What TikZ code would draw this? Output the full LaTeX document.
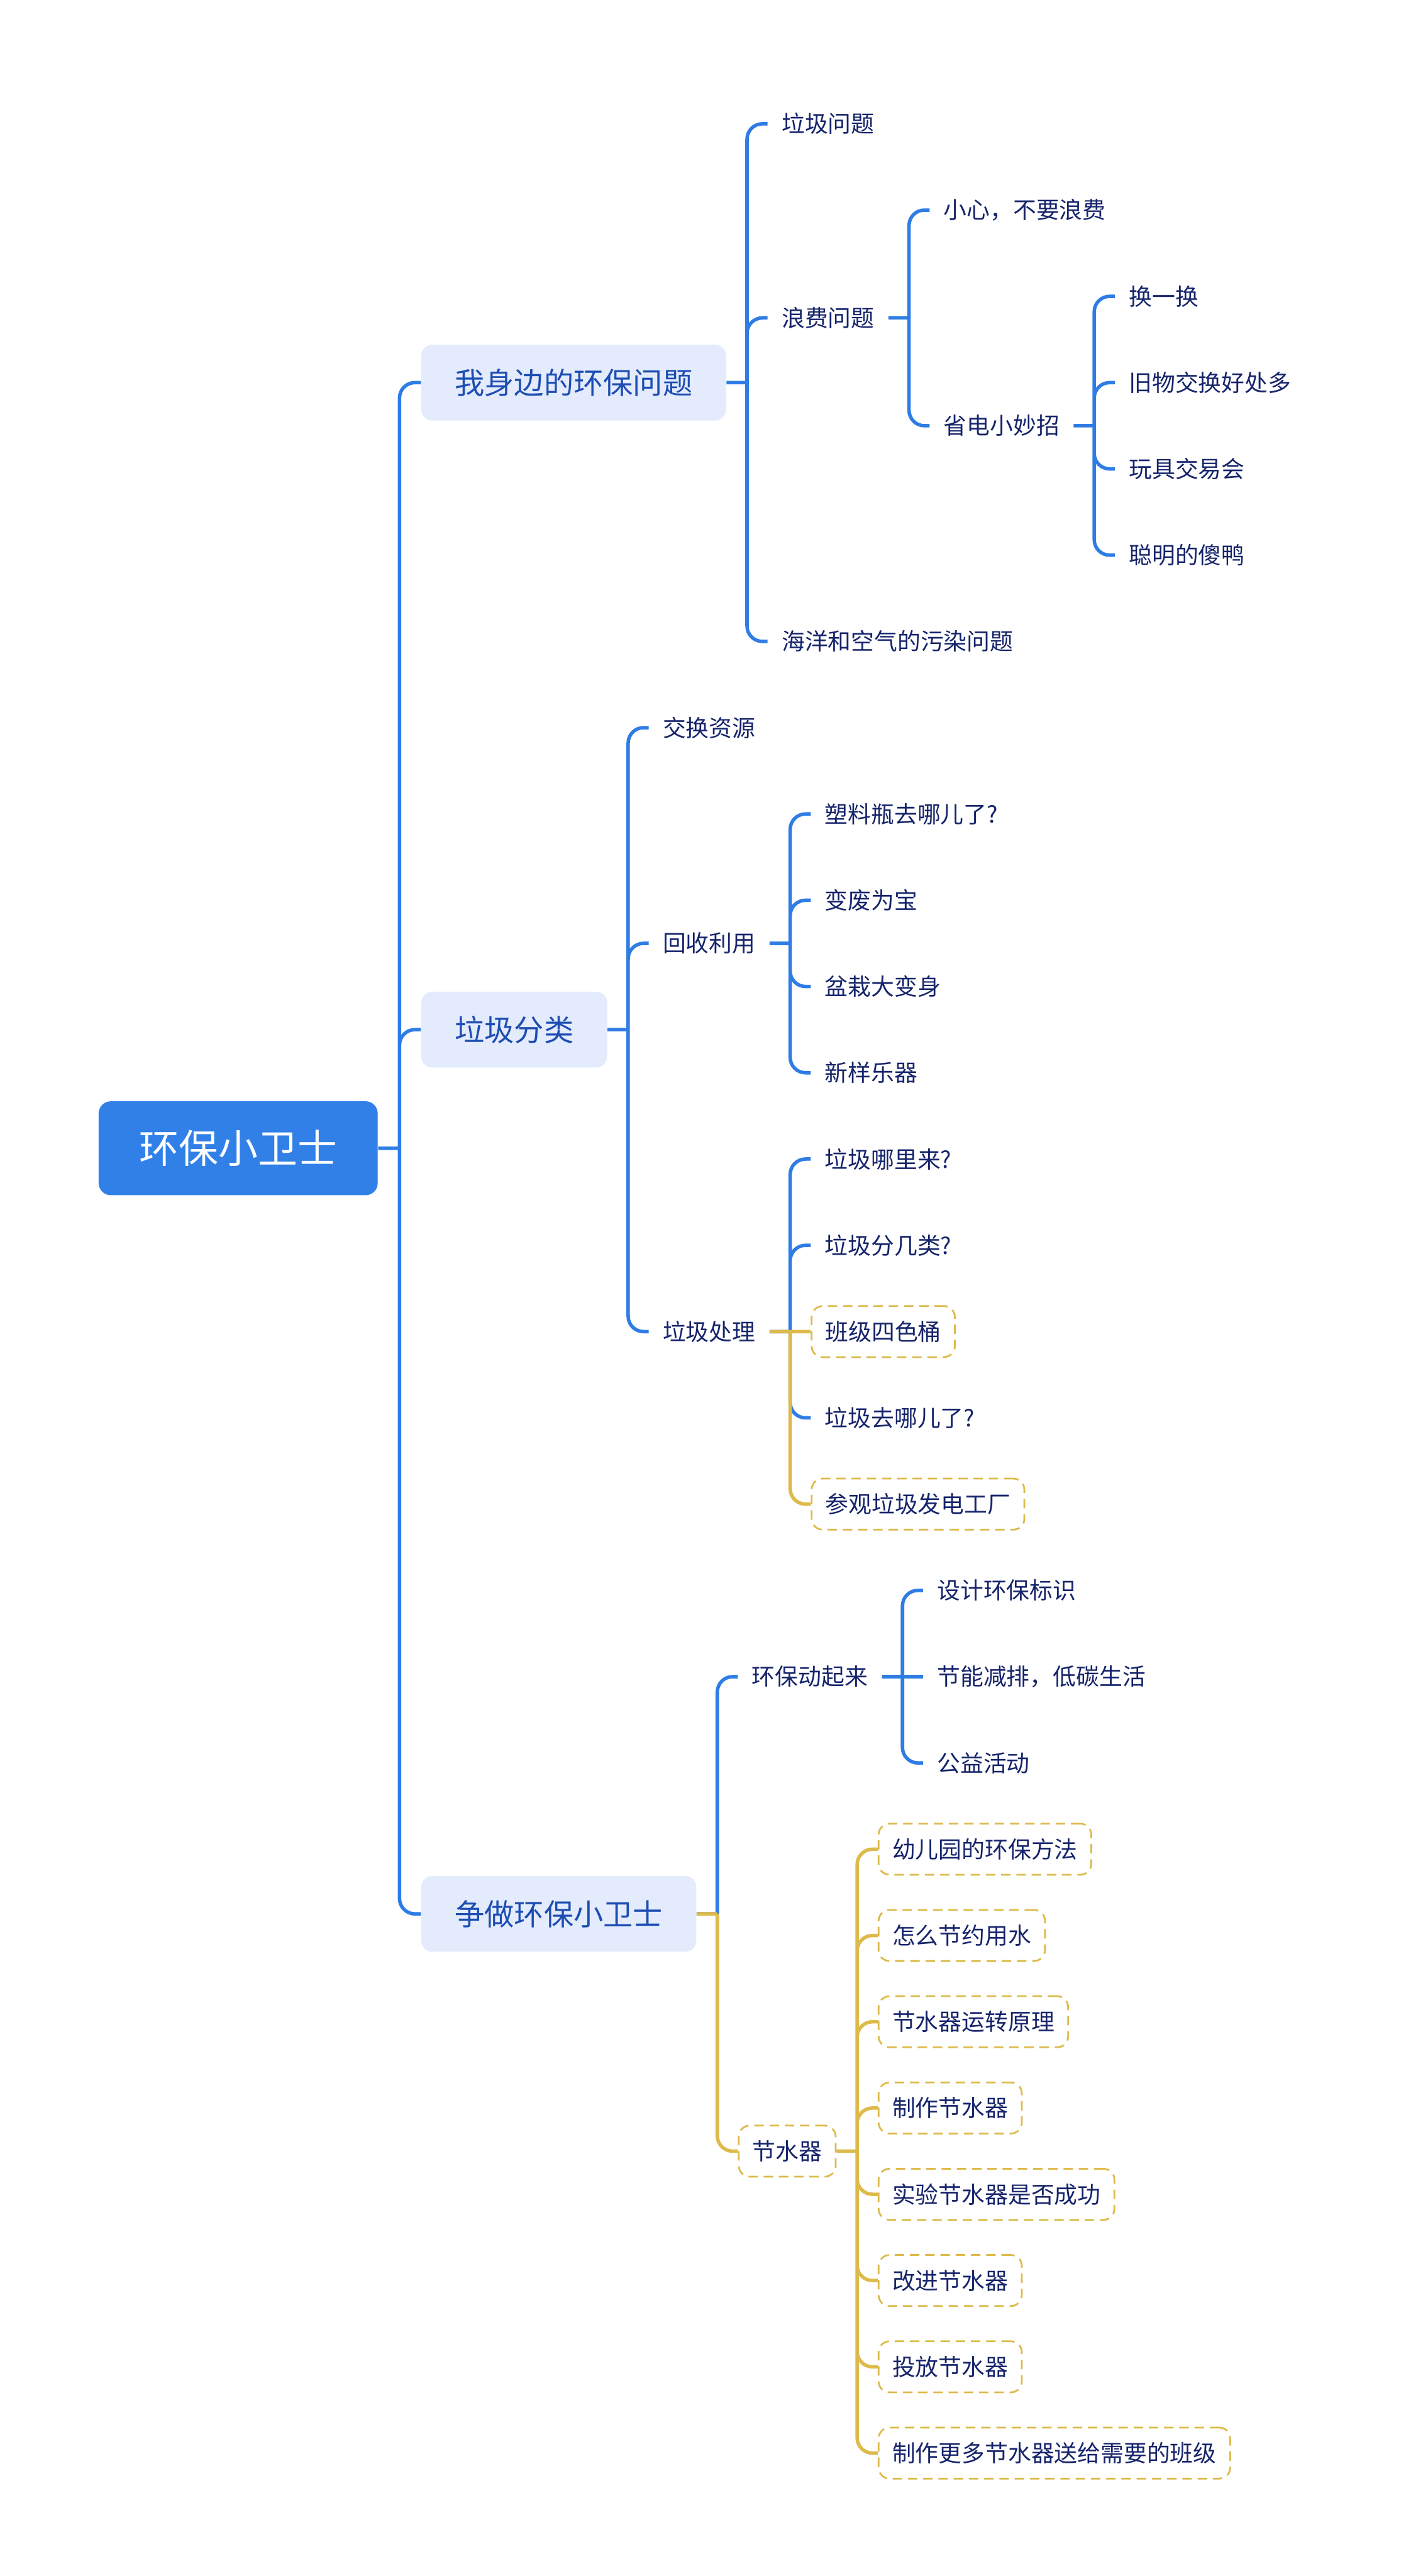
\documentclass[tikz,border=0pt]{standalone}
\usepackage{fontspec}
\setmainfont{Noto Sans CJK SC}
\usetikzlibrary{positioning}
\definecolor{colorRaiz}{HTML}{3080E8}
\definecolor{colorLinea}{HTML}{2F7DE4}
\definecolor{fondoRama}{HTML}{E3EBFC}
\definecolor{textoRama}{HTML}{1D4DB3}
\definecolor{textoHoja}{HTML}{16246B}
\definecolor{colorOcre}{HTML}{DDBA4A}
\def\fila{1.571cm}

\begin{document}
\begin{tikzpicture}[node distance=1cm and 0.75cm,
        raiz/.style={fill=colorRaiz, text=white, rounded corners=0.22cm,
            font=\fontsize{20.5pt}{24pt}\selectfont, minimum height=1.71cm, inner xsep=0.74cm},
        rama/.style={fill=fondoRama, text=textoRama, rounded corners=0.2cm,
            font=\fontsize{15.4pt}{18pt}\selectfont, minimum height=1.38cm, inner xsep=0.61cm},
        hoja/.style={text=textoHoja, font=\fontsize{12pt}{14pt}\selectfont,
            minimum height=0.93cm, inner xsep=0.25cm},
        hojaOcre/.style={hoja, draw=colorOcre, line width=0.9pt, dash pattern=on 4.9pt off 3pt,
            rounded corners=0.2cm},
        enlace/.style={colorLinea, line width=1.8pt, rounded corners=0.28cm},
        enlaceOcre/.style={enlace, colorOcre}]
    \fill[white] (0,0) rectangle (25.6,-46.91);
    \useasboundingbox (0,0) rectangle (25.6,-46.91);
    \node[raiz, anchor=west] (hb) at (1.79,-20.91) {环保小卫士};
    % primer nivel
    \node[rama, right=0.78cm of hb, yshift=8.875*\fila] (wsb) {我身边的环保问题};
    \node[rama, right=0.78cm of hb, yshift=1.375*\fila] (ljfl) {垃圾分类};
    \node[rama, right=0.78cm of hb, yshift=-8.875*\fila] (zz) {争做环保小卫士};
    % 我身边的环保问题
    \node[hoja, right=of wsb, yshift=3*\fila] (ljwt) {垃圾问题};
    \node[hoja, right=of wsb, yshift=0.75*\fila] (lfwt) {浪费问题};
    \node[hoja, right=of wsb, yshift=-3*\fila] (wr) {海洋和空气的污染问题};
    \node[hoja, right=of lfwt, yshift=1.25*\fila] (xx) {小心，不要浪费};
    \node[hoja, right=of lfwt, yshift=-1.25*\fila] (sd) {省电小妙招};
    \node[hoja, right=of sd, yshift=1.5*\fila] (hyh) {换一换};
    \node[hoja, right=of sd, yshift=0.5*\fila] (jw) {旧物交换好处多};
    \node[hoja, right=of sd, yshift=-0.5*\fila] (wj) {玩具交易会};
    \node[hoja, right=of sd, yshift=-1.5*\fila] (cm) {聪明的傻鸭};
    % 垃圾分类
    \node[hoja, right=of ljfl, yshift=3.5*\fila] (jhzy) {交换资源};
    \node[hoja, right=of ljfl, yshift=1*\fila] (hsly) {回收利用};
    \node[hoja, right=of ljfl, yshift=-3.5*\fila] (ljcl) {垃圾处理};
    \node[hoja, right=of hsly, yshift=1.5*\fila] (slp) {塑料瓶去哪儿了?};
    \node[hoja, right=of hsly, yshift=0.5*\fila] (bf) {变废为宝};
    \node[hoja, right=of hsly, yshift=-0.5*\fila] (pz) {盆栽大变身};
    \node[hoja, right=of hsly, yshift=-1.5*\fila] (yq) {新样乐器};
    \node[hoja, right=of ljcl, yshift=2*\fila] (nl) {垃圾哪里来?};
    \node[hoja, right=of ljcl, yshift=1*\fila] (fjl) {垃圾分几类?};
    \node[hojaOcre, right=of ljcl] (sst) {班级四色桶};
    \node[hoja, right=of ljcl, yshift=-1*\fila] (qn) {垃圾去哪儿了?};
    \node[hojaOcre, right=of ljcl, yshift=-2*\fila] (cg) {参观垃圾发电工厂};
    % 争做环保小卫士
    \node[hoja, right=of zz, yshift=2.75*\fila] (hbdql) {环保动起来};
    \node[hojaOcre, right=of zz, yshift=-2.75*\fila] (jsq) {节水器};
    \node[hoja, right=of hbdql, yshift=1*\fila] (sj) {设计环保标识};
    \node[hoja, right=of hbdql] (jn) {节能减排，低碳生活};
    \node[hoja, right=of hbdql, yshift=-1*\fila] (gy) {公益活动};
    \node[hojaOcre, right=of jsq, yshift=3.5*\fila] (yey) {幼儿园的环保方法};
    \node[hojaOcre, right=of jsq, yshift=2.5*\fila] (zm) {怎么节约用水};
    \node[hojaOcre, right=of jsq, yshift=1.5*\fila] (yz) {节水器运转原理};
    \node[hojaOcre, right=of jsq, yshift=0.5*\fila] (zzq) {制作节水器};
    \node[hojaOcre, right=of jsq, yshift=-0.5*\fila] (sy) {实验节水器是否成功};
    \node[hojaOcre, right=of jsq, yshift=-1.5*\fila] (gj) {改进节水器};
    \node[hojaOcre, right=of jsq, yshift=-2.5*\fila] (tf) {投放节水器};
    \node[hojaOcre, right=of jsq, yshift=-3.5*\fila] (gd) {制作更多节水器送给需要的班级};
    % conectores
    \draw[enlace] (hb.east) -- ++(0.39,0) coordinate (hb-j)
        (hb-j) |- (wsb.west) (hb-j) |- (ljfl.west) (hb-j) |- (zz.west);
    \draw[enlace] (wsb.east) -- ++(0.375,0) coordinate (wsb-j)
        (wsb-j) |- (ljwt.west) (wsb-j) |- (lfwt.west) (wsb-j) |- (wr.west);
    \draw[enlace] (lfwt.east) -- ++(0.375,0) coordinate (lfwt-j)
        (lfwt-j) |- (xx.west) (lfwt-j) |- (sd.west);
    \draw[enlace] (sd.east) -- ++(0.375,0) coordinate (sd-j)
        (sd-j) |- (hyh.west) (sd-j) |- (jw.west) (sd-j) |- (wj.west) (sd-j) |- (cm.west);
    \draw[enlace] (ljfl.east) -- ++(0.375,0) coordinate (ljfl-j)
        (ljfl-j) |- (jhzy.west) (ljfl-j) |- (hsly.west) (ljfl-j) |- (ljcl.west);
    \draw[enlace] (hsly.east) -- ++(0.375,0) coordinate (hsly-j)
        (hsly-j) |- (slp.west) (hsly-j) |- (bf.west) (hsly-j) |- (pz.west) (hsly-j) |- (yq.west);
    \draw[enlace] (ljcl.east) -- ++(0.375,0) coordinate (ljcl-j)
        (ljcl-j) |- (nl.west) (ljcl-j) |- (fjl.west) (ljcl-j) |- (qn.west);
    \draw[enlaceOcre] (ljcl.east) -- (sst.west) (ljcl-j) |- (cg.west);
    \draw[enlace] (zz.east) -- ++(0.375,0) coordinate (zz-j) (zz-j) |- (hbdql.west);
    \draw[enlace] (hbdql.east) -- (jn.west) (hbdql.east) ++(0.375,0) coordinate (hbdql-j)
        (hbdql-j) |- (sj.west) (hbdql-j) |- (gy.west);
    \draw[enlaceOcre] (zz.east) -- (zz-j) (zz-j) |- (jsq.west);
    \draw[enlaceOcre] (jsq.east) -- ++(0.375,0) coordinate (jsq-j)
        (jsq-j) |- (yey.west) (jsq-j) |- (zm.west) (jsq-j) |- (yz.west) (jsq-j) |- (zzq.west)
        (jsq-j) |- (sy.west) (jsq-j) |- (gj.west) (jsq-j) |- (tf.west) (jsq-j) |- (gd.west);
\end{tikzpicture}
\end{document}
